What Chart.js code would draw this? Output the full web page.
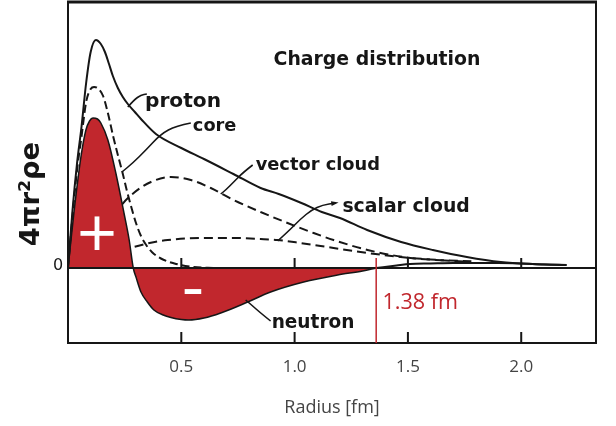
<!DOCTYPE html>
<html>
<head>
<meta charset="utf-8">
<title>Charge distribution</title>
<script src="https://cdn.jsdelivr.net/npm/chart.js@4.4.1/dist/chart.umd.min.js"></script>
<style>
  html, body { margin: 0; padding: 0; background: #fff; }
  #wrap { width: 616px; height: 426px; position: relative; }
</style>
</head>
<body>
<div id="wrap"><canvas id="chargeChart"></canvas></div>
<script>
// radius in fm, 4πr²ρe in arbitrary units
const protonR = [0, 0.02, 0.04, 0.06, 0.08, 0.1, 0.123, 0.145, 0.163, 0.181, 0.198, 0.22, 0.242, 0.264, 0.295, 0.322, 0.388, 0.5, 0.6, 0.73, 0.85, 0.93, 1.03, 1.12, 1.2, 1.32, 1.47, 1.61, 1.76, 1.91, 2.05, 2.2];
const protonV = [0, 5.8, 10.5, 14.2, 18.5, 21.6, 22.8, 22.4, 21.6, 20.4, 19.2, 18.0, 17.1, 16.4, 15.6, 14.9, 13.4, 12.0, 10.9, 9.4, 8.0, 7.4, 6.5, 5.6, 5.0, 3.8, 2.6, 1.8, 1.1, 0.6, 0.4, 0.3];

const coreR = [0, 0.02, 0.04, 0.06, 0.08, 0.1, 0.115, 0.135, 0.155, 0.176, 0.2, 0.22, 0.242, 0.26, 0.278, 0.3, 0.322, 0.345, 0.37, 0.41, 0.47, 0.55, 0.65];
const coreV = [0, 5.2, 9.8, 13.2, 16.6, 17.9, 18.1, 17.9, 17.2, 15.5, 13.1, 11.3, 9.4, 7.7, 6.2, 4.5, 3.2, 2.3, 1.6, 0.95, 0.45, 0.12, 0];

const neutronR = [0, 0.026, 0.057, 0.079, 0.095, 0.11, 0.13, 0.145, 0.176, 0.211, 0.247, 0.27, 0.288, 0.3, 0.322, 0.35, 0.379, 0.42, 0.454, 0.5, 0.533, 0.6, 0.674, 0.793, 0.894, 1.04, 1.19, 1.3, 1.36];
const neutronV = [0, 5.5, 11.1, 13.8, 14.7, 15.0, 14.9, 14.5, 12.8, 9.5, 5.5, 2.8, 0, -0.9, -2.4, -3.4, -4.2, -4.7, -4.95, -5.15, -5.2, -5.0, -4.5, -3.4, -2.4, -1.4, -0.7, -0.3, 0];

const neutronTailR = [1.36, 1.45, 1.51, 1.6, 1.7, 1.8, 1.9, 2.0, 2.1, 2.2];
const neutronTailV = [0, 0.25, 0.4, 0.45, 0.5, 0.5, 0.5, 0.45, 0.35, 0.3];

const vectorR = [0, 0.1, 0.2, 0.233, 0.29, 0.366, 0.454, 0.542, 0.63, 0.731, 0.85, 0.969, 1.084, 1.172, 1.322, 1.511, 1.65, 1.78];
const vectorV = [0, 2.5, 5.0, 6.2, 7.5, 8.6, 9.1, 8.8, 8.0, 6.8, 5.6, 4.5, 3.5, 2.8, 1.8, 1.0, 0.78, 0.68];

const scalarR = [0, 0.1, 0.2, 0.29, 0.36, 0.44, 0.586, 0.731, 0.85, 0.925, 1.026, 1.172, 1.322, 1.467, 1.6, 1.75];
const scalarV = [0, 0.8, 1.5, 2.1, 2.5, 2.8, 3.0, 3.0, 2.9, 2.8, 2.5, 2.0, 1.5, 1.1, 0.85, 0.65];

const tickValues = [0.5, 1.0, 1.5, 2.0];
const radiusMark = 1.36;          // where the red marker sits in the figure
const radiusMarkLabel = '1.38 fm';

const INK = '#161616';
const RED = '#c1272d';

function toPoints(rs, vs) {
    return rs.map((r, i) => ({ x: r, y: vs[i] }));
}

// text annotations, placed in data coordinates (r, v); w = ink width in px
const notes = [
    { text: 'Charge distribution', r: 0.907, v: 20.3, w: 205, font: 'bold {s}px "DejaVu Sans"', color: INK },
    { text: 'proton', r: 0.344, v: 16.1, w: 73, font: 'bold {s}px "DejaVu Sans"', color: INK },
    { text: 'core', r: 0.551, v: 13.7, w: 42, font: 'bold {s}px "DejaVu Sans"', color: INK },
    { text: 'vector cloud', r: 0.828, v: 9.8, w: 123, font: 'bold {s}px "DejaVu Sans"', color: INK },
    { text: 'scalar cloud', r: 1.211, v: 5.6, w: 125, font: 'bold {s}px "DejaVu Sans"', color: INK },
    { text: 'neutron', r: 0.903, v: -6.0, w: 80, font: 'bold {s}px "DejaVu Sans"', color: INK },
    { text: radiusMarkLabel, r: 1.392, v: -4.1, w: 72, font: '{s}px "Open Sans"', color: RED }
];

// leader lines from labels to curves, data coordinates
const leaders = [
    { pts: [[0.264, 16.1], [0.291, 16.8], [0.322, 17.3], [0.348, 17.4]] },
    { pts: [[0.542, 14.5], [0.476, 14.2], [0.41, 13.4], [0.344, 11.8], [0.286, 10.5], [0.238, 9.6]] },
    { pts: [[0.815, 10.3], [0.775, 9.6], [0.731, 8.6], [0.696, 7.8], [0.674, 7.4]] },
    { pts: [[0.925, 2.7], [0.974, 3.7], [1.026, 4.9], [1.075, 5.8], [1.123, 6.3], [1.181, 6.5]], arrow: true },
    { pts: [[0.894, -5.3], [0.85, -4.5], [0.81, -3.7], [0.784, -3.2]] }
];

function fitSize(ctx, text, fontTpl, targetW) {
    ctx.font = fontTpl.replace('{s}', 100);
    const m = ctx.measureText(text);
    const w = m.actualBoundingBoxRight + m.actualBoundingBoxLeft;
    return 100 * targetW / w;
}

function smoothPath(ctx, p) {
    ctx.beginPath();
    ctx.moveTo(p[0][0], p[0][1]);
    for (let i = 1; i < p.length - 1; i++) {
        const mx = (p[i][0] + p[i + 1][0]) / 2;
        const my = (p[i][1] + p[i + 1][1]) / 2;
        ctx.quadraticCurveTo(p[i][0], p[i][1], mx, my);
    }
    const last = p[p.length - 1];
    ctx.lineTo(last[0], last[1]);
    ctx.stroke();
}

const figureDecor = {
    id: 'figureDecor',
    afterDatasetsDraw(chart) {
        const { ctx, chartArea: a, scales: { x, y } } = chart;
        const y0 = y.getPixelForValue(0);
        ctx.save();

        // zero line
        ctx.strokeStyle = INK;
        ctx.lineWidth = 2;
        ctx.beginPath();
        ctx.moveTo(a.left, y0);
        ctx.lineTo(a.right, y0);
        ctx.stroke();

        // inward tick marks on the zero line and on the bottom edge
        tickValues.forEach(v => {
            const px = x.getPixelForValue(v);
            ctx.beginPath();
            ctx.moveTo(px, y0);
            ctx.lineTo(px, y0 - 10);
            ctx.moveTo(px, a.bottom);
            ctx.lineTo(px, a.bottom - 11);
            ctx.stroke();
        });

        // frame
        ctx.lineWidth = 2;
        ctx.strokeRect(a.left, a.top, a.right - a.left, a.bottom - a.top);
        ctx.lineWidth = 3;
        ctx.beginPath();
        ctx.moveTo(a.left - 1, a.top);
        ctx.lineTo(a.right + 1, a.top);
        ctx.stroke();

        // red radius marker
        const mx = x.getPixelForValue(radiusMark);
        ctx.strokeStyle = RED;
        ctx.lineWidth = 1.5;
        ctx.beginPath();
        ctx.moveTo(mx, y.getPixelForValue(1.0));
        ctx.lineTo(mx, a.bottom);
        ctx.stroke();

        // leader lines
        ctx.strokeStyle = INK;
        ctx.fillStyle = INK;
        ctx.lineWidth = 1.6;
        leaders.forEach(l => {
            const p = l.pts.map(([r, v]) => [x.getPixelForValue(r), y.getPixelForValue(v)]);
            smoothPath(ctx, p);
            if (l.arrow) {
                const e = p[p.length - 1], b = p[p.length - 2];
                const ang = Math.atan2(e[1] - b[1], e[0] - b[0]);
                ctx.beginPath();
                ctx.moveTo(e[0] + 3 * Math.cos(ang), e[1] + 3 * Math.sin(ang));
                ctx.lineTo(e[0] - 5 * Math.cos(ang - 0.5), e[1] - 5 * Math.sin(ang - 0.5));
                ctx.lineTo(e[0] - 5 * Math.cos(ang + 0.5), e[1] - 5 * Math.sin(ang + 0.5));
                ctx.closePath();
                ctx.fill();
            }
        });

        // labels
        ctx.textBaseline = 'alphabetic';
        ctx.textAlign = 'left';
        notes.forEach(n => {
            const s = fitSize(ctx, n.text, n.font, n.w);
            ctx.font = n.font.replace('{s}', s.toFixed(2));
            const m = ctx.measureText(n.text);
            ctx.fillStyle = n.color;
            ctx.fillText(n.text, x.getPixelForValue(n.r) + m.actualBoundingBoxLeft, y.getPixelForValue(n.v));
        });

        // white signs inside the neutron lobes
        ctx.fillStyle = '#fff';
        ctx.textAlign = 'center';
        [['+', 0.128, 3.5, 33], ['-', 0.551, -2.3, 17]].forEach(([t, r, v, w]) => {
            const s = fitSize(ctx, t, '{s}px "Open Sans"', w);
            ctx.font = s.toFixed(2) + 'px "Open Sans"';
            const m = ctx.measureText(t);
            const cy = (m.actualBoundingBoxAscent - m.actualBoundingBoxDescent) / 2;
            ctx.textBaseline = 'alphabetic';
            ctx.fillText(t, x.getPixelForValue(r), y.getPixelForValue(v) + cy);
        });

        // y axis: zero label and rotated title
        ctx.fillStyle = INK;
        ctx.font = '16px "DejaVu Sans"';
        ctx.textAlign = 'center';
        ctx.textBaseline = 'middle';
        ctx.fillText('0', a.left - 10, y0 - 2);

        const yTitle = '4πr²ρe';
        const ts = fitSize(ctx, yTitle, 'bold {s}px "DejaVu Sans"', 102);
        ctx.font = 'bold ' + ts.toFixed(2) + 'px "DejaVu Sans"';
        ctx.translate(32, 194);
        ctx.rotate(-Math.PI / 2);
        ctx.fillText(yTitle, 0, 0);

        ctx.restore();
    }
};

const lineBase = { showLine: true, pointRadius: 0, pointHoverRadius: 0, borderColor: INK, borderWidth: 2, fill: false, cubicInterpolationMode: 'monotone' };

new Chart(document.getElementById('chargeChart'), {
    type: 'scatter',
    data: {
        datasets: [
            { ...lineBase, label: 'proton', data: toPoints(protonR, protonV), order: 1 },
            { ...lineBase, label: 'core', data: toPoints(coreR, coreV), borderDash: [8, 4], order: 2 },
            { ...lineBase, label: 'neutron', data: toPoints(neutronR, neutronV), fill: 'origin', backgroundColor: RED, borderWidth: 1.5, order: 3 },
            { ...lineBase, label: 'neutron tail', data: toPoints(neutronTailR, neutronTailV), order: 3 },
            { ...lineBase, label: 'vector cloud', data: toPoints(vectorR, vectorV), borderDash: [9, 5], order: 4 },
            { ...lineBase, label: 'scalar cloud', data: toPoints(scalarR, scalarV), borderDash: [9, 5], order: 4 }
        ]
    },
    options: {
        responsive: true,
        maintainAspectRatio: false,
        animation: false,
        layout: { padding: { left: 68, right: 20, top: 2, bottom: 0 } },
        plugins: { legend: { display: false }, tooltip: { enabled: false } },
        scales: {
            x: {
                type: 'linear',
                min: 0,
                max: 2.33,
                grid: { display: false, drawTicks: false },
                border: { display: false },
                afterBuildTicks: s => { s.ticks = tickValues.map(v => ({ value: v })); },
                afterFit: s => { s.height = 83; },
                ticks: {
                    padding: 14,
                    autoSkip: false,
                    maxRotation: 0,
                    color: '#444',
                    font: { family: 'Open Sans', size: 17 },
                    callback: v => Number(v).toFixed(1)
                },
                title: {
                    display: true,
                    text: 'Radius [fm]',
                    color: '#444',
                    font: { family: 'Open Sans', size: 18 },
                    padding: { top: 0, bottom: 7 }
                }
            },
            y: { display: false, min: -7.5, max: 26.6 }
        }
    },
    plugins: [figureDecor]
});
</script>
</body>
</html>
